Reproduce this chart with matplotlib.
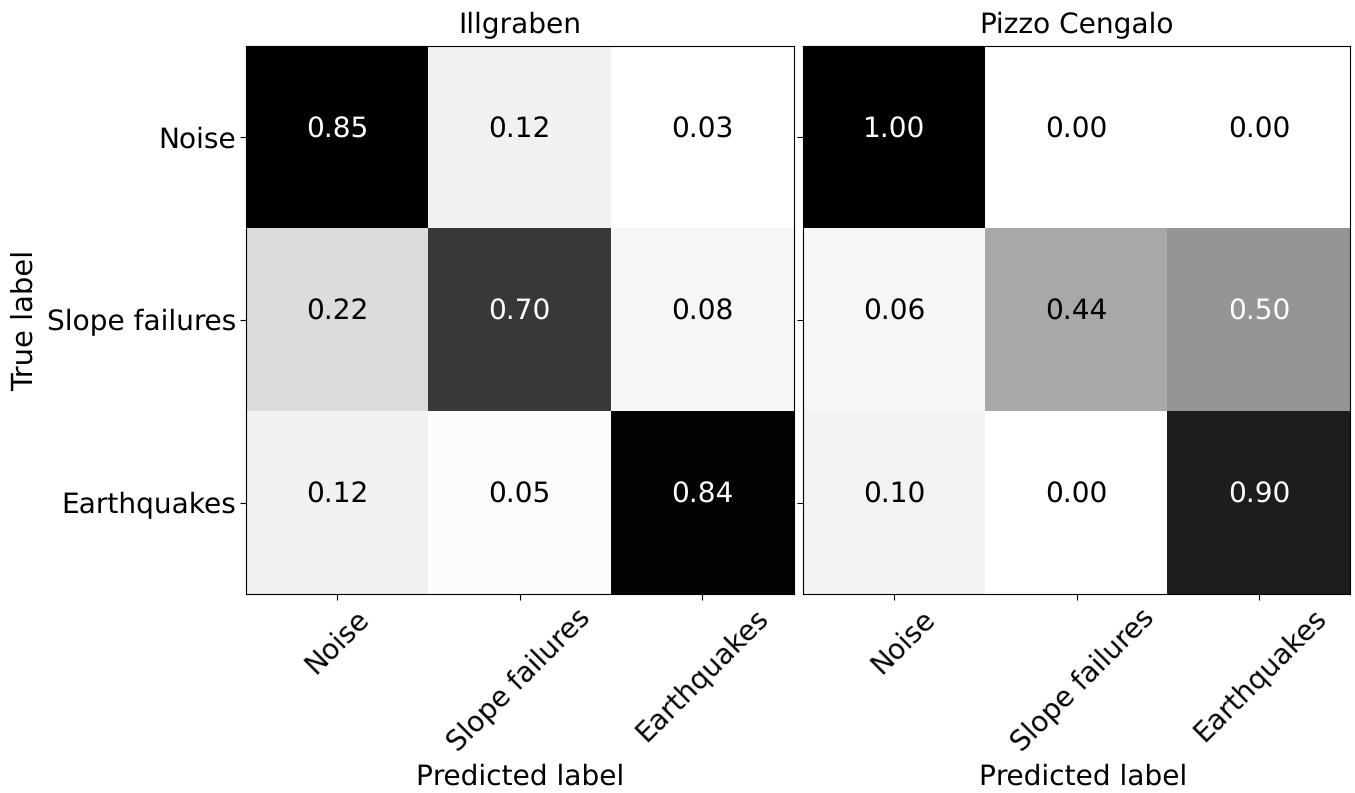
import matplotlib
matplotlib.use("Agg")
import matplotlib.pyplot as plt
import matplotlib.transforms as mtrans
import numpy as np

plt.rcParams["text.hinting"] = "no_hinting"
plt.rcParams["text.hinting_factor"] = 1

classes = ["Noise", "Slope failures", "Earthquakes"]
illgraben = [[0.85, 0.12, 0.03], [0.22, 0.70, 0.08], [0.12, 0.05, 0.84]]
pizzo = [[1.00, 0.00, 0.00], [0.06, 0.44, 0.50], [0.10, 0.00, 0.90]]
titles = ["Illgraben", "Pizzo Cengalo"]

W, H = 1355, 793
fig = plt.figure(figsize=(W/100, H/100), dpi=100)
boxes = [(246, 46, 547.5, 548), (803, 46, 547, 548)]
label_shift = [[0, 0, 0], [9, 7, 2]]
for i, (data, title, b) in enumerate(zip([illgraben, pizzo], titles, boxes)):
    ax = fig.add_axes([b[0]/W, 1-(b[1]+b[3])/H, b[2]/W, b[3]/H])
    arr = np.array(data)
    vmin, vmax = arr.min(), arr.max()
    ax.imshow(arr, cmap="Greys", vmin=vmin, vmax=vmax, aspect="auto")
    for r in range(3):
        for c in range(3):
            ax.text(c, r - 0.042, f"{arr[r, c]:.2f}", ha="center", va="center", fontsize=20.2,
                    color="white" if arr[r, c] >= vmax/2 else "black")
    ax.set_title(title, fontsize=20.3, pad=9)
    ax.set_xticks(range(3))
    ax.set_yticks(range(3))
    ax.tick_params(length=4, width=0.8)
    ax.tick_params(axis="y", pad=3)
    ax.set_xticklabels(classes, rotation=45, fontsize=20.5, ha="center")
    for lab, dx in zip(ax.get_xticklabels(), label_shift[i]):
        lab.set_transform(lab.get_transform() + mtrans.ScaledTranslation(dx/100, 0, fig.dpi_scale_trans))
    if i == 0:
        ax.set_yticklabels(classes, fontsize=20.5)
        ax.set_ylabel("True label", fontsize=20.6, labelpad=6)
    else:
        ax.set_yticklabels([])
    ax.set_xlabel("Predicted label", fontsize=20.4, labelpad=4)
    if i == 1:
        ax.xaxis.label.set_x(0.5 + 7/b[2])
fig.savefig("out.png", dpi=100)
